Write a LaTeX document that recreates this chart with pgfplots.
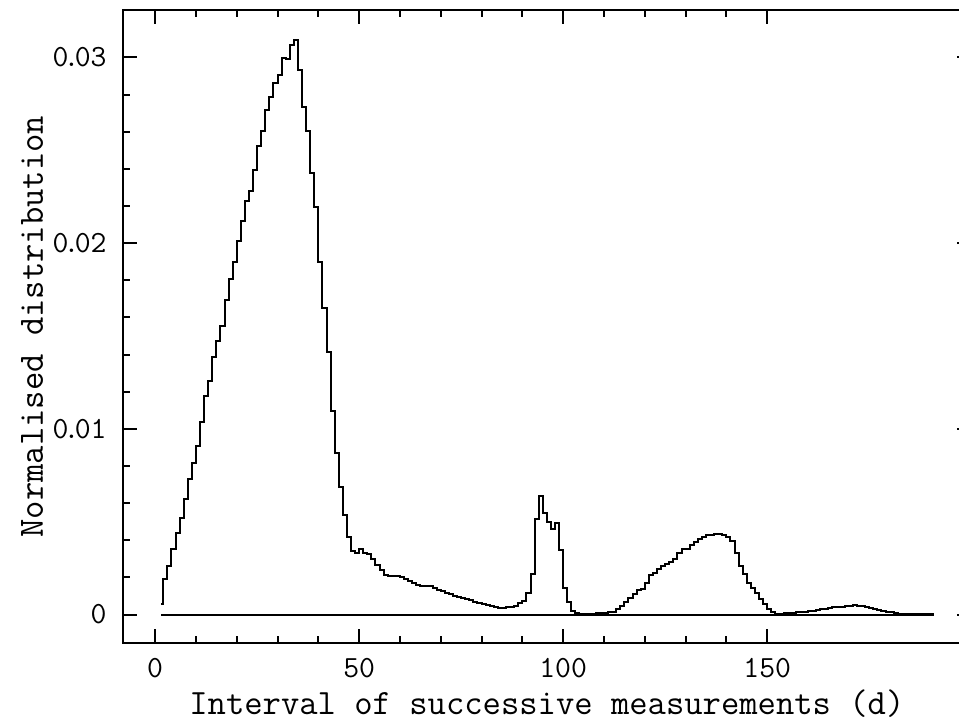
\documentclass[border=0pt]{standalone}
\usepackage{pgfplots}
\pgfplotsset{compat=1.18}
\pgfplotstableread{
x y
1.5 0.00055
2 0.0019
3 0.00261
4 0.00354
5 0.0044
6 0.00521
7 0.00623
8 0.0073
9 0.00815
10 0.00909
11 0.01036
12 0.01179
13 0.01259
14 0.01385
15 0.01472
16 0.01554
17 0.01692
18 0.01805
19 0.01898
20 0.02013
21 0.0212
22 0.02224
23 0.02278
24 0.02394
25 0.02521
26 0.02601
27 0.02718
28 0.02784
29 0.02864
30 0.02906
31 0.02998
32 0.0299
33 0.03067
34 0.03092
35 0.02933
36 0.02732
37 0.02601
38 0.02377
39 0.02192
40 0.01899
41 0.01648
42 0.01415
43 0.01095
44 0.00872
45 0.00685
46 0.00534
47 0.00418
48 0.00343
49 0.00329
50 0.00354
51 0.00333
52 0.00324
53 0.00297
54 0.00265
55 0.00238
56 0.00213
57 0.00205
58 0.00205
59 0.00205
60 0.00203
61 0.0019
62 0.00178
63 0.00168
64 0.0016
65 0.00154
66 0.00152
67 0.00156
68 0.00142
69 0.00132
70 0.00124
71 0.00116
72 0.00108
73 0.00101
74 0.00095
75 0.00089
76 0.00083
77 0.00077
78 0.0007
79 0.00062
80 0.00056
81 0.0005
82 0.00045
83 0.00038
84 0.00033
85 0.00033
86 0.00038
87 0.00043
88 0.00048
89 0.0006
90 0.00075
91 0.00115
92 0.00218
93 0.00516
94 0.0064
95 0.00546
96 0.005
97 0.00458
98 0.00494
99 0.00348
100 0.00142
101 0.0007
102 0.0002
103 0.0001
104 0.00005
105 0.00004
106 0.00004
107 0.00005
108 0.00006
109 0.00008
110 0.0001
111 0.00012
112 0.00015
113 0.00028
114 0.00048
115 0.00068
116 0.00088
117 0.00113
118 0.0013
119 0.0014
120 0.0017
121 0.00214
122 0.00224
123 0.00247
124 0.00262
125 0.00272
126 0.00282
127 0.003
128 0.0033
129 0.00352
130 0.00352
131 0.00375
132 0.00392
133 0.00408
134 0.0042
135 0.00426
136 0.0043
137 0.00432
138 0.00436
139 0.00428
140 0.0042
141 0.00395
142 0.0033
143 0.00262
144 0.00216
145 0.00172
146 0.00145
147 0.00118
148 0.00085
149 0.00058
150 0.00032
151 0.00014
152 0.00004
153 0.00004
154 0.00006
155 0.00008
156 0.0001
157 0.00012
158 0.00014
159 0.00016
160 0.00018
161 0.0002
162 0.00024
163 0.00028
164 0.00032
165 0.00036
166 0.0004
167 0.00042
168 0.00041
169 0.00044
170 0.00047
171 0.0005
172 0.00046
173 0.00044
174 0.0004
175 0.00036
176 0.00031
177 0.00026
178 0.00021
179 0.00016
180 0.00011
181 0.00007
182 0.00004
183 0.00002
184 0.00001
185 0.00001
186 0.00001
187 0.00001
188 0.00001
189 0.00001
190 0.00001
191 0.00001
}\histdata
\newcommand{\dt}{\kern-2.4pt.\kern-2.4pt}
\begin{document}
\begin{tikzpicture}
\begin{axis}[
  at={(0,0)}, anchor=south west,
  scale only axis, width=424.15pt, height=316.65pt,
  xmin=-7.95, xmax=199.95, ymin=-0.00155, ymax=0.03255,
  xtick={0,50,100,150}, xticklabels={0,50,100,150},
  ytick={0,0.01,0.02,0.03}, yticklabels={0,0\dt01,0\dt02,0\dt03},
  scaled y ticks=false, scaled x ticks=false,
  minor x tick num=4, minor y tick num=4,
  major tick length=7pt, minor tick length=3.5pt,
  tick align=inside,
  tick style={black, line width=1pt},
  axis line style={black, line width=1pt},
  /pgf/number format/assume math mode=true,
  font=\ttfamily\fontsize{17.8}{21}\selectfont,
  ticklabel style={font=\ttfamily\fontsize{15.4}{18}\selectfont},
  xticklabel style={inner sep=0pt, anchor=north, yshift=-7.4pt},
  yticklabel style={inner sep=0pt, anchor=east, xshift=-7.9pt},
  xlabel={Interval of successive measurements (d)},
  ylabel={Normalised distribution},
  every axis x label/.style={at={(axis description cs:0.5,-0.1132)}, anchor=base},
  every axis y label/.style={at={(axis description cs:-0.094,0.5)}, anchor=base, rotate=90},
]
\addplot[black, line width=1pt] coordinates {(1.5,0) (191,0)};
\addplot[const plot, black, line width=1pt] table[x=x, y=y] {\histdata};
\end{axis}
\pgfresetboundingbox
\useasboundingbox (-61.35pt,-40.35pt) rectangle (418.15pt,321.65pt);
\end{tikzpicture}
\end{document}
